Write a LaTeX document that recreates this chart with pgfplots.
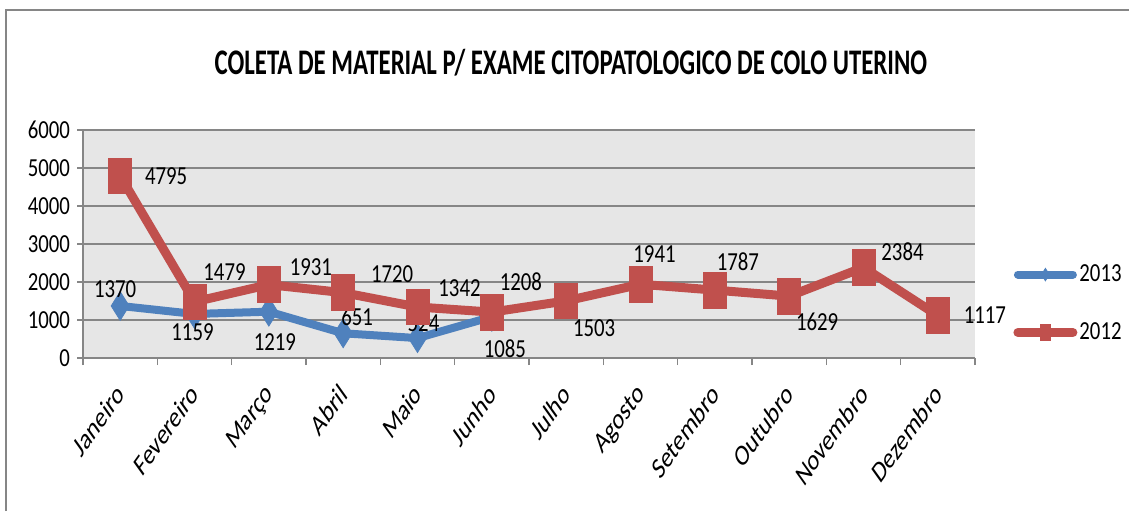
\documentclass[border=0pt]{standalone}
\usepackage{pgfplots}
\pgfplotsset{compat=1.18}
\usepackage{fontspec}
\setmainfont{Carlito}
\newfontfamily\narrow{Carlito}[FakeStretch=0.8]
\newfontfamily\titlefont{Carlito}[FakeStretch=0.69]
\definecolor{serblue}{HTML}{4F81BD}
\definecolor{serred}{HTML}{C0504D}
\definecolor{bggray}{HTML}{E6E6E6}
\definecolor{linegray}{HTML}{868686}
\begin{document}
\begin{tikzpicture}
\path[use as bounding box] (0,0) rectangle (564.5pt,255.5pt);
\draw[linegray, line width=1pt] (3pt,0pt) -- (3pt,250.5pt) -- (564.5pt,250.5pt);
\node[font=\titlefont\bfseries\fontsize{18}{20}\selectfont] at (285.5pt,224pt) {COLETA DE MATERIAL P/ EXAME CITOPATOLOGICO DE COLO UTERINO};
\begin{axis}[
  at={(41.5pt,76.5pt)}, anchor=south west,
  scale only axis, width=446pt, height=114pt,
  xmin=-0.5, xmax=11.5, ymin=0, ymax=6000,
  ytick={0,1000,...,6000},
  scaled y ticks=false,
  /pgf/number format/1000 sep={},
  /pgf/number format/assume math mode=true,
  axis x line*=bottom, axis y line*=left,
  axis line style={linegray, line width=0.8pt},
  ymajorgrids, grid style={linegray, line width=0.8pt},
  axis background/.style={fill=bggray},
  xtick={0,...,11},
  xticklabels={Janeiro,Fevereiro,Março,Abril,Maio,Junho,Julho,Agosto,Setembro,Outubro,Novembro,Dezembro},
  major x tick style={draw=none},
  minor xtick={-0.5,0.5,...,11.5},
  tick align=outside,
  major tick length=3pt, minor tick length=3.5pt,
  tick style={linegray, line width=0.8pt},
  yticklabel style={font=\narrow\fontsize{13}{14}\selectfont, text=black},
  xticklabel style={font=\fontsize{10.7}{12}\selectfont, xshift=-2.5pt, cm={0.7071,0.99,-0.7071,0.99,(0,0)}, anchor=north east},
  xticklabel shift=2pt,
  clip=false,
  legend style={at={(axis description cs:1.0426,0.239)}, anchor=west, draw=none, fill=none,
    font=\narrow\fontsize{13}{14}\selectfont, row sep=15pt, inner sep=0pt, nodes={inner xsep=1pt}},
  legend cell align=left,
  legend image code/.code={\draw[mark repeat=2,mark phase=2,#1,mark size=2.6pt] plot coordinates {(0pt,0pt) (13.75pt,0pt) (27.5pt,0pt)};},
  nodes near coords={\pgfplotspointmeta},
  point meta=explicit symbolic,
  visualization depends on={\thisrow{dx} \as \myx},
  visualization depends on={\thisrow{dy} \as \myy},
  nodes near coords style={font=\narrow\fontsize{13}{14}\selectfont, text=black, anchor=center, xshift=\myx pt, yshift=\myy pt},
]
\addplot[serblue, line width=4pt, line cap=round, mark=diamond*, mark size=6pt, mark options={line width=0.4pt, fill=serblue, yscale=1.2}]
  table[x=x, y=y, meta=y] {
x y dx dy
0 1370 -2.5 8.5
1 1159 -1 -9
2 1219 3 -15
3 651 7 8
4 524 3 7.5
5 1085 6.5 -16
};
\addlegendentry{2013}
\addplot[serred, line width=4.5pt, line cap=round, mark=square*, mark size=5.75pt, mark options={line width=0.4pt, fill=serred, yscale=1.55}]
  table[x=x, y=y, meta=y] {
x y dx dy
0 4795 23 0
1 1479 15 15
2 1931 21 8.5
3 1720 24.5 9.5
4 1342 21 9.5
5 1208 14.5 15
6 1503 14 -13.5
7 1941 7 15
8 1787 11.5 14
9 1629 14 -13
10 2384 19.5 8
11 1117 23.5 0
};
\addlegendentry{2012}
\end{axis}
\end{tikzpicture}
\end{document}
